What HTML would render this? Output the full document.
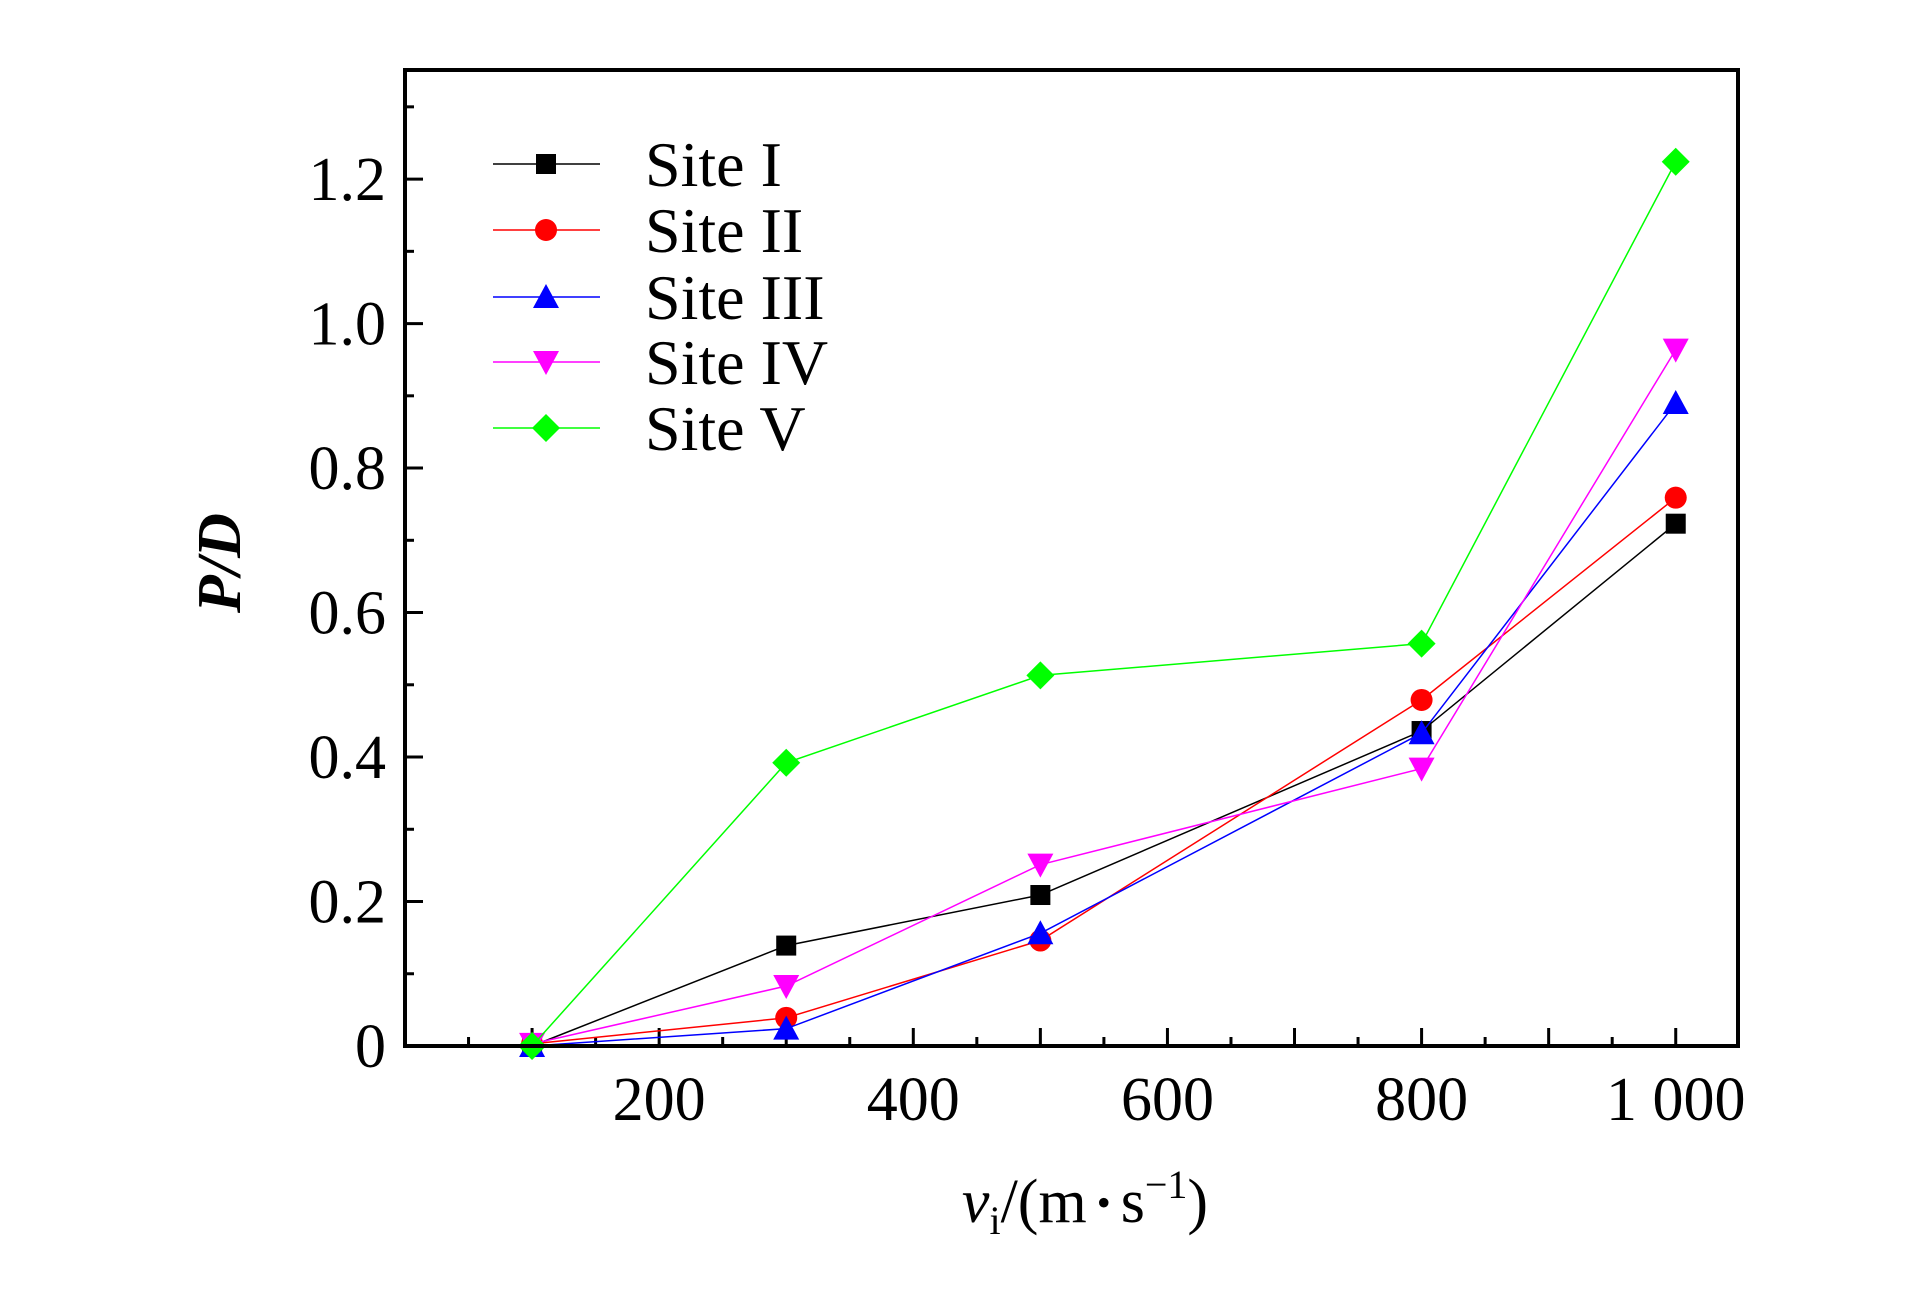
<!DOCTYPE html>
<html><head><meta charset="utf-8"><style>
html,body{margin:0;padding:0;background:#fff;}
svg{display:block;font-family:"Liberation Serif",serif;}
</style></head><body>
<svg id="chart" width="1923" height="1299" viewBox="0 0 1923 1299" xmlns="http://www.w3.org/2000/svg"></svg>
<script>
const xValues=[100,300,500,800,1000];
const siteNames=["Site  I","Site  II","Site  III","Site  IV","Site  V"];
const site1=[0.000,0.139,0.209,0.436,0.723];
const site2=[0.003,0.039,0.146,0.479,0.759];
const site3=[0.000,0.024,0.156,0.433,0.890];
const site4=[0.003,0.083,0.251,0.384,0.964];
const site5=[0.000,0.392,0.513,0.557,1.224];
const xTickLabels=["200","400","600","800","1 000"];
const xTickValues=[200,400,600,800,1000];
const yTickLabels=["0","0.2","0.4","0.6","0.8","1.0","1.2"];
const yTickValues=[0,0.2,0.4,0.6,0.8,1.0,1.2];

const NS="http://www.w3.org/2000/svg";
const svg=document.getElementById('chart');
const L=405,R=1738,T=70,B=1046;
const xMin=0,xMax=1049,yMin=0,yMax=1.351;
function sx(v){return L+(v-xMin)/(xMax-xMin)*(R-L);}
function sy(v){return B-(v-yMin)/(yMax-yMin)*(B-T);}
function mk(tag,attrs,parent){const e=document.createElementNS(NS,tag);for(const k in attrs)e.setAttribute(k,attrs[k]);(parent||svg).appendChild(e);return e;}

const ticks=mk('g',{stroke:'#000','stroke-width':3});


for(let v=50;v<xMax;v+=50){const major=v%100===0;mk('line',{x1:sx(v),x2:sx(v),y1:B,y2:B-(major?18:9)},ticks);}
for(let i=1;i<=13;i++){const v=i*0.1;const major=i%2===0;mk('line',{x1:L,x2:L+(major?18:9),y1:sy(v),y2:sy(v)},ticks);}

xTickValues.forEach((v,i)=>{const t=mk('text',{x:sx(v),y:1120,'text-anchor':'middle','font-size':62});t.textContent=xTickLabels[i];

});
yTickValues.forEach((v,i)=>{const t=mk('text',{x:386,y:sy(v)+21,'text-anchor':'end','font-size':62});t.textContent=yTickLabels[i];

});

const colors=['#000000','#ff0000','#0000ff','#ff00ff','#00ff00'];
const shapes=['square','circle','triangle','invtriangle','diamond'];
const series=[site1,site2,site3,site4,site5];
function marker(shape,x,y,c,parent){
  const s=11;
  if(shape==='square')return mk('rect',{x:x-s+1,y:y-s+1,width:2*s-2,height:2*s-2,fill:c},parent);
  if(shape==='circle')return mk('circle',{cx:x,cy:y,r:s,fill:c},parent);
  if(shape==='triangle')return mk('polygon',{points:`${x},${y-s-2} ${x+s+2},${y+s} ${x-s-2},${y+s}`,fill:c},parent);
  if(shape==='invtriangle')return mk('polygon',{points:`${x},${y+s+2} ${x+s+2},${y-s} ${x-s-2},${y-s}`,fill:c},parent);
  return mk('polygon',{points:`${x},${y-s-3} ${x+s+3},${y} ${x},${y+s+3} ${x-s-3},${y}`,fill:c},parent);
}
series.forEach((d,si)=>{
  const g=mk('g',{});
  
  
  const pts=d.map((v,i)=>sx(xValues[i])+','+sy(v)).join(' ');
  mk('polyline',{points:pts,fill:'none',stroke:colors[si],'stroke-width':1.5},g);
  d.forEach((v,i)=>{const m=marker(shapes[si],sx(xValues[i]),sy(v),colors[si],g);
    
    });
});

const lg=mk('g',{});


const rowY=[164,230,297,362,428];
siteNames.forEach((n,i)=>{
  const e=mk('g',{},lg);
  
  
  mk('line',{x1:493,x2:600,y1:rowY[i],y2:rowY[i],stroke:colors[i],'stroke-width':1.5},e);
  marker(shapes[i],546,rowY[i],colors[i],e);
  const t=mk('text',{x:645,y:rowY[i]+22,'font-size':64,'xml:space':'preserve'},e);
  t.textContent=n;
});

const fr=mk('rect',{x:L,y:T,width:R-L,height:B-T,fill:'none',stroke:'#000','stroke-width':4});



const xt=mk('text',{x:1085,y:1222,'text-anchor':'middle','font-size':62});


xt.innerHTML='<tspan font-style="italic">v</tspan><tspan font-size="40" dy="12">i</tspan><tspan dy="-12">/(m</tspan><tspan font-size="40" dy="-6"> • </tspan><tspan dy="6">s</tspan><tspan font-size="40" dy="-24">−1</tspan><tspan dy="24">)</tspan>';
const yt=mk('text',{x:0,y:0,'text-anchor':'middle','font-size':62,'font-style':'italic','font-weight':'bold',transform:'translate(240,563) rotate(-90)'});


yt.textContent='P/D';
</script>
</body></html>
